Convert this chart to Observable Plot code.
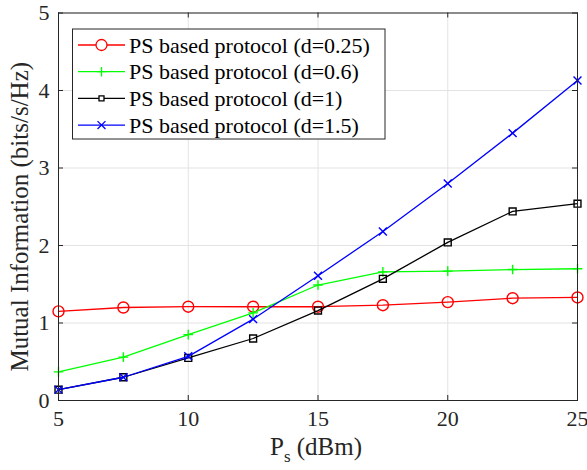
<!DOCTYPE html>
<html>
<head>
<meta charset="utf-8">
<script src="https://cdn.jsdelivr.net/npm/d3@7"></script>
<script src="https://cdn.jsdelivr.net/npm/@observablehq/plot@0.6"></script>
<style>
  html, body { margin: 0; padding: 0; background: #fff; }
  #chart svg { display: block; }
  #chart svg text { font-family: "Liberation Serif", "Times New Roman", serif; }
</style>
</head>
<body>
<div id="chart"></div>
<script>
const psDbm = [5, 7.5, 10, 12.5, 15, 17.5, 20, 22.5, 25];
const d025 = [1.15, 1.20, 1.21, 1.21, 1.21, 1.23, 1.27, 1.32, 1.33];
const d06  = [0.37, 0.56, 0.85, 1.13, 1.49, 1.66, 1.67, 1.69, 1.70];
const d1   = [0.14, 0.30, 0.55, 0.80, 1.16, 1.57, 2.04, 2.44, 2.54];
const d15  = [0.14, 0.30, 0.57, 1.05, 1.61, 2.18, 2.80, 3.45, 4.13];
const seriesNames = ["PS based protocol (d=0.25)", "PS based protocol (d=0.6)", "PS based protocol (d=1)", "PS based protocol (d=1.5)"];
const xTicks = [5, 10, 15, 20, 25];
const yTicks = [0, 1, 2, 3, 4, 5];

const seriesStyle = [
  {values: d025, color: "#ff0000", symbol: "circle", r: 5.5},
  {values: d06,  color: "#00ff00", symbol: "plus",   r: 3.2},
  {values: d1,   color: "#000000", symbol: "square", r: 3.9},
  {values: d15,  color: "#0000ff", symbol: "times",  r: 3.7}
];

const rows = [];
seriesStyle.forEach((s, i) => s.values.forEach((v, j) => rows.push({x: psDbm[j], y: v, name: seriesNames[i]})));

const axisColor = "#262626";
const serif = "Liberation Serif";
const marks = [
  Plot.gridX(xTicks, {stroke: "#e3e3e3", strokeOpacity: 1}),
  Plot.gridY(yTicks, {stroke: "#e3e3e3", strokeOpacity: 1}),
];
seriesStyle.forEach((s, i) => {
  const data = rows.filter(d => d.name === seriesNames[i]);
  marks.push(Plot.line(data, {x: "x", y: "y", stroke: s.color, strokeWidth: 1.3}));
  marks.push(Plot.dot(data, {x: "x", y: "y", stroke: s.color, symbol: s.symbol, r: s.r, strokeWidth: 1.4, fill: "none"}));
});
// inward ticks on all four sides
const tx = 5 / (518.7 / 20), ty = 5 / 77.5;
marks.push(
  Plot.ruleX(xTicks, {y1: 0, y2: ty, stroke: axisColor}),
  Plot.ruleX(xTicks, {y1: 5, y2: 5 - ty, stroke: axisColor}),
  Plot.ruleY(yTicks, {x1: 5, x2: 5 + tx, stroke: axisColor}),
  Plot.ruleY(yTicks, {x1: 25, x2: 25 - tx, stroke: axisColor}),
  Plot.frame({stroke: axisColor, strokeWidth: 1}),
  Plot.axisX(xTicks, {tickSize: 0, tickPadding: 10, fontSize: 22, fontFamily: serif, label: null, tickFormat: d => String(d)}),
  Plot.axisY(yTicks, {tickSize: 0, tickPadding: 9, fontSize: 22, fontFamily: serif, label: null, tickFormat: d => String(d)}),
  Plot.text(["Mutual Information (bits/s/Hz)"], {frameAnchor: "left", dx: -31, dy: 10, rotate: -90, fontSize: 25, fontFamily: serif, fill: axisColor, textAnchor: "middle", lineAnchor: "bottom"})
);

const chart = Plot.plot({
  width: 587,
  height: 470,
  marginLeft: 58,
  marginRight: 10,
  marginTop: 12.5,
  marginBottom: 70,
  x: {domain: [5, 25]},
  y: {domain: [0, 5]},
  style: {fontFamily: serif, color: axisColor, background: "#fff", overflow: "visible"},
  marks
});
document.getElementById("chart").appendChild(chart);

const svg = d3.select(chart);
// x label with subscript
const xl = svg.append("text")
  .attr("x", 316).attr("y", 455)
  .attr("text-anchor", "middle")
  .attr("font-family", serif)
  .attr("font-size", 25).attr("fill", axisColor);
xl.append("tspan").text("P");
xl.append("tspan").attr("dy", 7).attr("font-size", 17).text("s");
xl.append("tspan").attr("dy", -7).text(" (dBm)");

// legend
const lg = svg.append("g").attr("font-family", serif).attr("font-size", 22).attr("text-anchor", "start");
lg.append("rect").attr("x", 72.5).attr("y", 29).attr("width", 312.5).attr("height", 110)
  .attr("fill", "#fff").attr("stroke", axisColor).attr("stroke-width", 1);
const symMap = {circle: d3.symbolCircle, plus: d3.symbolPlus, square: d3.symbolSquare, times: d3.symbolTimes};
seriesStyle.forEach((s, i) => {
  const cy = 45 + i * 26.7;
  lg.append("line").attr("x1", 78).attr("x2", 125).attr("y1", cy).attr("y2", cy)
    .attr("stroke", s.color).attr("stroke-width", 1.3);
  const size = s.symbol === "square" ? 25 : Math.PI * s.r * s.r;
  lg.append("path").attr("d", d3.symbol(symMap[s.symbol], size)())
    .attr("transform", `translate(101.5,${cy})`)
    .attr("fill", s.symbol === "square" || s.symbol === "circle" ? "#fff" : "none")
    .attr("stroke", s.color).attr("stroke-width", 1.3);
  lg.append("text").attr("x", 129).attr("y", cy).attr("dy", "0.35em").attr("fill", "#000")
    .attr("font-family", serif).attr("text-anchor", "start").text(seriesNames[i]);
});
</script>
</body>
</html>
